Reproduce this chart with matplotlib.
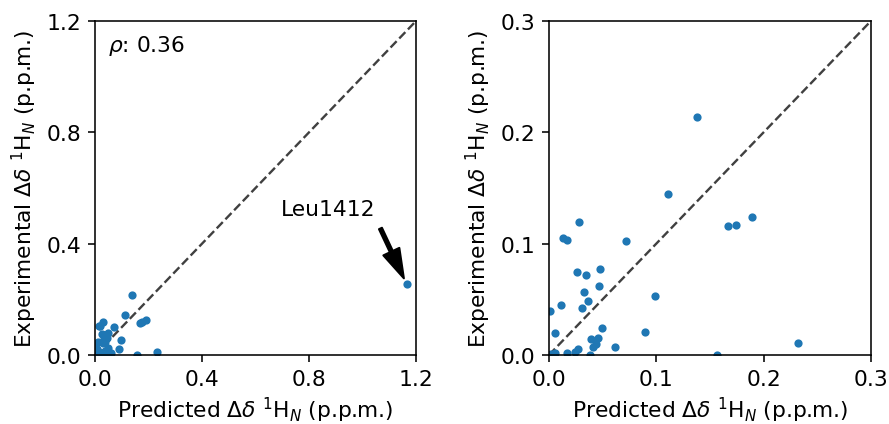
import matplotlib
matplotlib.use("Agg")
import matplotlib.pyplot as plt

# Predicted and experimental chemical shift perturbations (p.p.m.)
predicted = [0.1378, 0.1107, 0.0283, 0.1664, 0.1745, 0.1894, 0.0134, 0.0171,
             0.0719, 0.0258, 0.0348, 0.0476, 0.0463, 0.0323, 0.0361, 0.0305,
             0.0109, 0.0986, 0.0006, 0.0498, 0.0056, 0.0895, 0.0460, 0.0391,
             0.0435, 0.0413, 0.0615, 0.2320, 0.0267, 0.0242, 0.0170, 0.0056,
             0.0020, 0.0380, 0.1570, 1.1650]
experimental = [0.2137, 0.1450, 0.1197, 0.1161, 0.1170, 0.1239, 0.1050, 0.1030,
                0.1020, 0.0749, 0.0722, 0.0773, 0.0624, 0.0564, 0.0484, 0.0424,
                0.0451, 0.0528, 0.0397, 0.0240, 0.0198, 0.0204, 0.0153, 0.0144,
                0.0099, 0.0069, 0.0075, 0.0104, 0.0054, 0.0030, 0.0018, 0.0018,
                0.0010, 0.0003, 0.0000, 0.2540]
outlier_label = "Leu1412"
outlier_index = len(predicted) - 1
rho_text = r"$\rho$: 0.36"

left_limits = (0.0, 1.2)
left_ticks = [0.0, 0.4, 0.8, 1.2]
right_limits = (0.0, 0.3)
right_ticks = [0.0, 0.1, 0.2, 0.3]

xlabel = r"Predicted $\Delta\delta$ $^{1}$H$_{N}$ (p.p.m.)"
ylabel = r"Experimental $\Delta\delta$ $^{1}$H$_{N}$ (p.p.m.)"

DPI = 142
FS = 11
plt.rcParams['font.family'] = ['DejaVu Sans']
plt.rcParams['font.size'] = FS

fig = plt.figure(figsize=(889 / DPI, 425 / DPI), dpi=DPI)
ax1 = fig.add_axes([0.1069, 0.1624, 0.3611, 0.7859])
ax2 = fig.add_axes([0.6175, 0.1624, 0.3622, 0.7859])

for ax, lim, ticks in [(ax1, left_limits, left_ticks), (ax2, right_limits, right_ticks)]:
    ax.plot(lim, lim, linestyle='--', color='#404040', linewidth=1.2, zorder=1)
    ax.scatter(predicted, experimental, s=10, color='#1f77b4', zorder=2,
               clip_on=True)
    ax.set_xlim(lim)
    ax.set_ylim(lim)
    ax.set_xticks(ticks)
    ax.set_yticks(ticks)
    ax.set_xticklabels([f"{t:.1f}" for t in ticks])
    ax.set_yticklabels([f"{t:.1f}" for t in ticks])
    ax.set_xlabel(xlabel, fontsize=FS, labelpad=3.3)
    ax.set_ylabel(ylabel, fontsize=FS)
    ax.tick_params(labelsize=FS)

ax1.text(0.04, 0.965, rho_text, transform=ax1.transAxes, ha='left', va='top', fontsize=FS)
ax1.annotate(outlier_label,
             xy=(predicted[outlier_index], experimental[outlier_index]),
             xytext=(0.873, 0.526), ha='center', va='center', fontsize=FS,
             arrowprops=dict(facecolor='black', edgecolor='black', width=1.7,
                             headwidth=9, headlength=15, shrink=0.09))

fig.savefig("out.png", dpi=DPI)
